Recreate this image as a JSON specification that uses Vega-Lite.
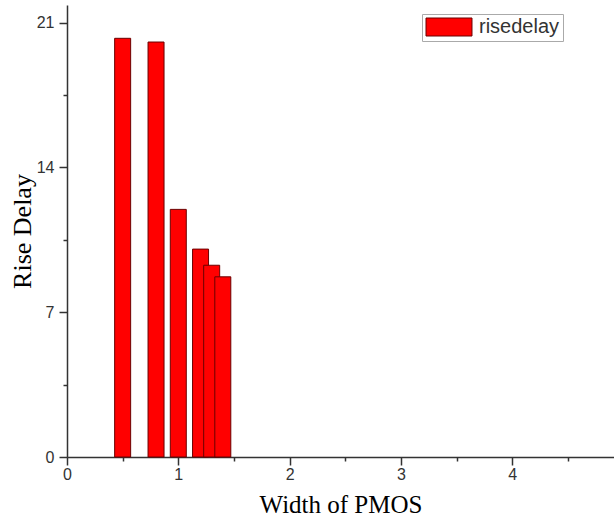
{
  "$schema": "https://vega.github.io/schema/vega-lite/v6.json",
  "width": 547,
  "height": 452,
  "autosize": {"type": "none"},
  "padding": {"left": 67, "top": 5, "right": 0, "bottom": 65},
  "background": "white",
  "config": {
    "view": {"stroke": null},
    "axis": {
      "domainColor": "#333",
      "domainWidth": 1.5,
      "tickColor": "#333",
      "tickWidth": 1.5,
      "grid": false,
      "labelFont": "Liberation Sans",
      "labelFontSize": 16,
      "labelColor": "#333",
      "titleFont": "Liberation Serif",
      "titleFontSize": 25,
      "titleFontWeight": "normal",
      "titleColor": "#000"
    }
  },
  "data": {
    "values": [
      {"width": 0.5, "delay": 20.24, "series": "risedelay"},
      {"width": 0.8, "delay": 20.06, "series": "risedelay"},
      {"width": 1.0, "delay": 11.97, "series": "risedelay"},
      {"width": 1.2, "delay": 10.05, "series": "risedelay"},
      {"width": 1.3, "delay": 9.27, "series": "risedelay"},
      {"width": 1.4, "delay": 8.71, "series": "risedelay"}
    ]
  },
  "layer": [
    {
      "mark": {"type": "bar", "size": 16, "stroke": "#6a0000", "strokeWidth": 1, "clip": false},
      "encoding": {
        "x": {
          "field": "width",
          "type": "quantitative",
          "scale": {"domain": [0, 4.915], "nice": false, "zero": false, "padding": 0},
          "axis": {
            "orient": "bottom",
            "values": [0, 1, 2, 3, 4],
            "tickSize": 8,
            "labelPadding": 1,
            "title": "Width of PMOS",
            "titlePadding": 10,
            "labelFlush": false
          }
        },
        "y": {
          "field": "delay",
          "type": "quantitative",
          "scale": {"domain": [0, 21.85], "nice": false, "padding": 0},
          "axis": {
            "orient": "left",
            "values": [0, 7, 14, 21],
            "tickSize": 8,
            "labelPadding": 5,
            "title": "Rise Delay",
            "titleFontSize": 26,
            "titlePadding": 1,
            "labelFlush": false
          }
        },
        "color": {
          "field": "series",
          "type": "nominal",
          "scale": {"range": ["#ff0000"]},
          "legend": {
            "title": null,
            "orient": "none",
            "legendX": 355,
            "legendY": 9,
            "strokeColor": "#aaaaaa",
            "fillColor": "white",
            "padding": 3,
            "symbolType": "M-1,-1L4.11,-1L4.11,1L-1,1Z",
            "symbolSize": 324,
            "symbolStrokeColor": "#6a0000",
            "symbolStrokeWidth": 1,
            "symbolOpacity": 1,
            "labelFont": "Liberation Sans",
            "labelFontSize": 20,
            "labelColor": "#333",
            "labelOffset": 34
          }
        }
      }
    },
    {
      "mark": {"type": "point", "opacity": 0},
      "encoding": {
        "x": {
          "field": "width",
          "type": "quantitative",
          "axis": {
            "orient": "bottom",
            "values": [0.5, 1.5, 2.5, 3.5, 4.5],
            "tickSize": 4,
            "labels": false,
            "domain": false,
            "title": null
          }
        },
        "y": {
          "field": "delay",
          "type": "quantitative",
          "axis": {
            "orient": "left",
            "values": [3.5, 10.5, 17.5],
            "tickSize": 4,
            "labels": false,
            "domain": false,
            "title": null
          }
        }
      }
    }
  ],
  "resolve": {"axis": {"x": "independent", "y": "independent"}}
}
